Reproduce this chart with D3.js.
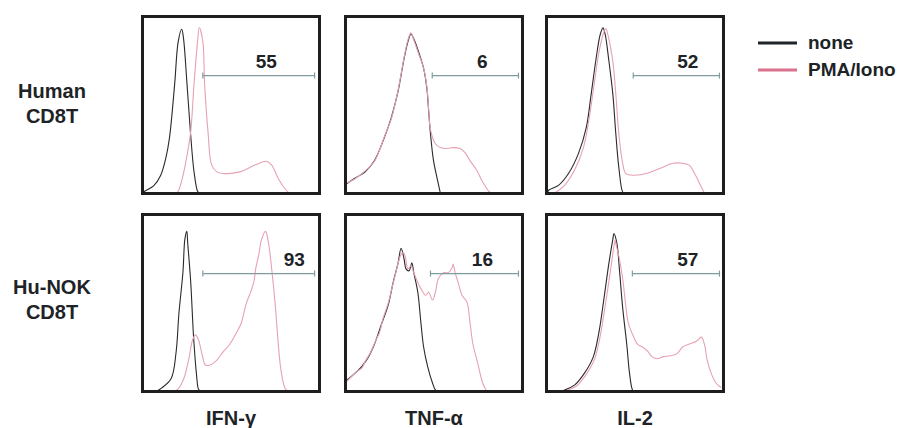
<!DOCTYPE html>
<html>
<head>
<meta charset="utf-8">
<script src="https://cdn.jsdelivr.net/npm/d3@7"></script>
<style>
  body { margin: 0; background: #fff; }
  svg text { font-family: "Liberation Sans", Arial, sans-serif; font-weight: bold; fill: #1d2326; }
</style>
</head>
<body>
<div id="chart"></div>
<script>
// categories
const markers = ["IFN-γ", "TNF-α", "IL-2"];
const cellTypes = [["Human", "CD8T"], ["Hu-NOK", "CD8T"]];
const conditions = ["none", "PMA/Iono"];

// gate percentages and gate ranges (fluorescence channel, 0-100)
const gatePct = [[55, 6, 52], [93, 16, 57]];
const gateFrom = [[34, 49, 49], [34, 48, 48.5]];
const gateTo = [[97.5, 98, 98], [97.5, 98, 98]];

// histograms: [channel, % of max]
const humIfnNone = [[0,0],[1,1],[6,4],[10,10],[13,20],[15,31],[18,62],[20,86],[22,93],[23,88],[25,62],[27,34],[29,12],[31,1],[32,0]];
const humIfnPma = [[19,0],[20,1],[22,7],[24,16],[27,34],[29,62],[31,86],[32,94],[34,86],[35,62],[37,34],[39,16],[42,12],[47,11],[55,12],[64,16],[70,18],[73,16],[77,8],[81,2],[83,0]];
const humTnfNone = [[0,5],[5,8.4],[10.6,11.8],[16.2,18.5],[21.8,31.5],[25.7,42.7],[29.6,57.9],[33,76.4],[35.2,86],[36.9,90.4],[38.5,87.6],[41.3,80],[44.1,70.8],[46,59],[47,46],[48,33.7],[49.7,18.5],[52,7.3],[53.6,0]];
const humTnfPma = [[0,5.5],[5,8],[10.6,12.3],[16.2,18],[21.8,32],[25.7,42],[29.6,58.5],[33,77],[35.2,87],[36.9,91],[38.5,87],[41.3,79],[44.1,71],[46,60],[47,47],[48,36],[50.8,28],[53.6,25.8],[57.5,25.3],[60.9,25.8],[64.8,25.3],[67.6,23],[70.4,18.5],[74.3,12.9],[77.7,6.2],[81.6,0.6],[83.2,0]];
const humIl2None = [[0,0],[1.1,1.7],[6.7,4.5],[12.3,11.2],[17.9,22.5],[22.3,37.1],[25.1,56.2],[27.9,76.4],[30.2,89.9],[31.8,93.8],[33,90.4],[35.2,74.7],[37.4,56.2],[39.1,33.7],[40.8,14.6],[43,0.6],[44,0]];
const humIl2Pma = [[4.5,0],[10.1,4.5],[15.6,12.9],[20.7,25.8],[24,42.7],[26.8,61.8],[29.6,80.3],[32.4,91.6],[33.5,93.3],[34.6,89.9],[37.4,74.7],[39.1,56.2],[40.8,33.7],[43,16.9],[44.7,11.2],[49.2,10.1],[57,11.2],[64.2,14],[71.5,16.9],[77.1,16.9],[81,15.7],[83.8,11.2],[86.6,5.6],[89.4,0]];
const nokIfnNone = [[8,0],[10.5,1.6],[16,7.1],[18.8,22],[20.4,44],[22.7,67.6],[23.8,86.3],[24.9,90.7],[25.4,84.1],[27.1,62.1],[28.7,31.3],[30.4,9.3],[31.5,1.1],[32.5,0]];
const nokIfnPma = [[18,0],[19.9,1.1],[23.2,7.1],[26,18.1],[28.2,29.1],[29.8,31.9],[31.5,29.1],[33.7,20.3],[35.4,14.8],[38.1,14.8],[42,17.6],[45.3,22],[49.2,26.4],[53,33],[55.8,38.5],[58.6,49.5],[61.3,56.6],[63,62.1],[64.1,69.8],[65.7,76.9],[67.4,86.3],[69.6,90.7],[71.3,84.1],[72.9,71.4],[75.1,49.5],[76.8,27.5],[78.5,11],[80.7,1.6],[82.3,0]];
const nokTnfNone = [[0,6],[1.7,7.2],[5,10],[8.9,13.9],[12.8,19.4],[16.2,26.7],[20.1,37.8],[24,48.9],[26.8,61.7],[29.6,72.8],[31.3,81.1],[33,75],[34.1,69.4],[35.8,68.3],[37.4,72.8],[38.5,67.2],[40.8,56.1],[42.5,39.4],[44.1,25],[46.4,13.9],[49.2,4.4],[50.8,0.6],[52,0]];
const nokTnfPma = [[0,5],[2,7],[4,9],[6,11],[9,13],[11,17],[14,22],[17,29],[19,33],[21,41],[24,50],[26,58],[28,66],[30,74],[31.5,78],[33,78.3],[35.2,69.4],[36.9,71.1],[38.5,67.2],[40.8,61.7],[42.5,58.3],[45.3,54.4],[46.9,56.1],[49.2,51.7],[50.8,56.1],[52.5,63.9],[55.3,67.2],[58.1,67.2],[60.3,70],[60.9,72.2],[62,67.2],[63.7,61.7],[65.9,54.4],[68.7,50.6],[70.4,39.4],[72.1,26.7],[74.9,15.6],[77.7,4.4],[79.9,0]];
const nokIl2None = [[8,0],[10.1,0.6],[15.6,3.3],[21.2,10],[26.3,19.4],[29.6,33.9],[32.4,52.8],[35.2,72.8],[37.4,86.1],[38,89.4],[39.7,83.9],[41.3,67.2],[43,47.2],[45.3,26.7],[46.9,10],[48.6,0.6],[49.5,0]];
const nokIl2Pma = [[10,0],[12,0.5],[17,3],[22,9],[27,18],[30,30],[33,48],[36,68],[38,82],[38.8,86],[39.1,83.9],[40.8,76.7],[43,63.9],[44.7,48.9],[46.4,37.8],[48.6,32.2],[51.4,26.7],[54.2,25],[57,22.8],[59.8,19.4],[62.6,18.3],[65.9,19.4],[69.8,20],[73.7,21.1],[77.1,25],[81,26.7],[84.9,28.3],[87.7,30.6],[89.4,26.7],[91.1,17.2],[93.3,10],[96.1,4.4],[97.8,2.8],[99,2]];

const histNone = [[humIfnNone, humTnfNone, humIl2None], [nokIfnNone, nokTnfNone, nokIl2None]];
const histPma = [[humIfnPma, humTnfPma, humIl2Pma], [nokIfnPma, nokTnfPma, nokIl2Pma]];

let width = 912,
    height = 428,
    svg = d3.select('#chart').append('svg')
        .attr('width', width)
        .attr('height', height),
    colX = [141, 344, 545],
    rowY = [15, 213],
    pw = 180,
    ph = 180,
    // where the gate number sits (channel units)
    labelX = [[70, 77.5, 80], [86, 77.5, 80]],
    lineCol = ['#2a2a2a', '#e6a2b2'],
    legendCol = ['#1e2428', '#d9728c'],
    gateCol = '#7f9d9f';

let x = d3.scaleLinear().domain([0, 100]).range([2, pw - 2]);
let y = d3.scaleLinear().domain([0, 100]).range([ph - 2, 2]);
let line = d3.line()
    .x((d) => x(d[0]))
    .y((d) => y(d[1]))
    .curve(d3.curveCatmullRom.alpha(0.5));

cellTypes.forEach((rowName, r) => {
	markers.forEach((m, c) => {
		let g = svg.append('g')
		    .attr('transform', 'translate(' + colX[c] + ',' + rowY[r] + ')');

		// histograms, black first then pink on top
		g.append('path')
		    .attr('d', line(histNone[r][c]))
		    .attr('fill', 'none')
		    .attr('stroke', lineCol[0])
		    .attr('stroke-width', 1.1);
		g.append('path')
		    .attr('d', line(histPma[r][c]))
		    .attr('fill', 'none')
		    .attr('stroke', lineCol[1])
		    .attr('stroke-width', 1.1);

		// gate
		let gy = y(66.7);
		g.append('line')
		    .attr('x1', x(gateFrom[r][c])).attr('x2', x(gateTo[r][c]))
		    .attr('y1', gy).attr('y2', gy)
		    .attr('stroke', gateCol).attr('stroke-width', 1.3);
		[gateFrom[r][c], gateTo[r][c]].forEach((v) => {
			g.append('line')
			    .attr('x1', x(v)).attr('x2', x(v))
			    .attr('y1', gy - 3).attr('y2', gy + 3)
			    .attr('stroke', gateCol).attr('stroke-width', 1.2);
		});
		g.append('text')
		    .attr('x', x(labelX[r][c]))
		    .attr('y', gy - 8)
		    .attr('text-anchor', 'middle')
		    .style('font-size', '19px')
		    .text(gatePct[r][c]);

		// frame
		g.append('rect')
		    .attr('x', 1.5).attr('y', 1.5)
		    .attr('width', pw - 3).attr('height', ph - 3)
		    .attr('fill', 'none')
		    .attr('stroke', '#1e1e1e')
		    .attr('stroke-width', 3);
	});

	// row label
	let t = svg.append('text')
	    .attr('x', 52)
	    .attr('y', rowY[r] + (r === 0 ? 83 : 81))
	    .attr('text-anchor', 'middle')
	    .style('font-size', '20px');
	rowName.forEach((s, i) => {
		t.append('tspan').attr('x', 52).attr('dy', i === 0 ? 0 : 25).text(s);
	});
});

// column labels
svg.selectAll('text.col')
    .data(markers)
    .enter().append('text')
    .attr('class', 'col')
    .attr('x', (d, i) => colX[i] + pw / 2)
    .attr('y', 425)
    .attr('text-anchor', 'middle')
    .style('font-size', '20px')
    .text((d) => d);

// legend
let lg = svg.selectAll('g.legend')
    .data(conditions)
    .enter().append('g')
    .attr('class', 'legend')
    .attr('transform', (d, i) => 'translate(758,' + (43 + 27 * i) + ')');
lg.append('line')
    .attr('x1', 0).attr('x2', 39)
    .attr('stroke', (d, i) => legendCol[i])
    .attr('stroke-width', 3);
lg.append('text')
    .attr('x', 50)
    .attr('y', 6)
    .style('font-size', '19px')
    .text((d) => d);
</script>
</body>
</html>
